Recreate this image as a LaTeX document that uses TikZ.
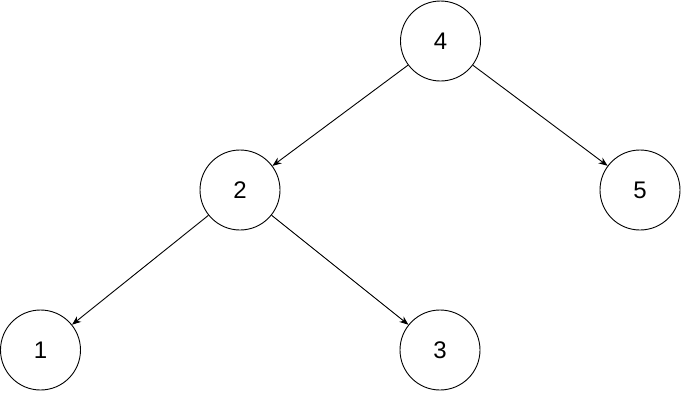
\documentclass[tikz,border=0pt]{standalone}
\usepackage{fontspec}
\setmainfont{Liberation Sans}
\usetikzlibrary{arrows.meta}
\begin{document}
\begin{tikzpicture}[x=1pt,y=-1pt,
  tnode/.style={circle,draw,line width=0.9pt,minimum size=80pt,inner sep=0pt,font=\fontsize{24}{26}\selectfont},
  edge/.style={-{Stealth[length=9pt,width=7pt]},line width=0.9pt}]
\useasboundingbox (0,0) rectangle (681,392);
\node[tnode] (n4) at (440.5,41) {4};
\node[tnode] (n2) at (240,190) {2};
\node[tnode] (n5) at (640,190) {5};
\node[tnode] (n1) at (40.5,350) {1};
\node[tnode] (n3) at (440,350) {3};
\draw[edge] (n4) -- (n2);
\draw[edge] (n4) -- (n5);
\draw[edge] (n2) -- (n1);
\draw[edge] (n2) -- (n3);
\end{tikzpicture}
\end{document}
